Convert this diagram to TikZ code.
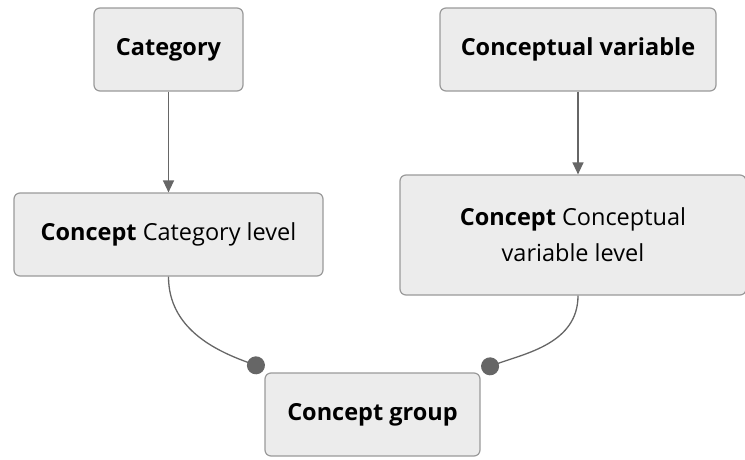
\documentclass[tikz,border=0pt]{standalone}
\usepackage{fontspec}
\setmainfont{Open Sans}
\usetikzlibrary{arrows.meta,positioning}
\definecolor{boxfill}{HTML}{ECECEC}
\definecolor{boxline}{HTML}{9A9A9A}
\definecolor{linkline}{HTML}{666666}
\tikzset{
    %Define standard arrow tip
    >={Triangle[length=12pt,width=11pt]},
    %Define style for boxes
    entity/.style={
           rectangle,
           rounded corners=6pt,
           draw=boxline, line width=1.2pt,
           fill=boxfill,
           minimum height=83pt,
           font=\fontsize{23.5}{36}\selectfont,
           align=center},
    % Define link styles
    isa/.style={
           ->,
           draw=linkline,
           line width=1.3pt},
    member/.style={
           -{Circle[length=18pt,width=18pt]},
           draw=linkline,
           line width=1.3pt}
}

\begin{document}
\begin{tikzpicture}[x=1pt,y=1pt]
\useasboundingbox (0,0) rectangle (745,-459);
\node[entity, minimum width=149pt] (cat) at (168.5,-49.5) {\textbf{Category}};
\node[entity, minimum width=276pt] (cvar) at (578,-49.5) {\textbf{Conceptual variable}};
\node[entity, minimum width=309pt] (catlvl) at (168.5,-234.5) {\textbf{Concept} Category level};
\node[entity, minimum width=346pt, minimum height=120pt] (cvarlvl) at (573,-235)
     {\textbf{Concept} Conceptual\\variable level};
\node[entity, minimum width=215pt] (grp) at (372.5,-414.5) {\textbf{Concept group}};
% links
\draw[isa] (cat) -- (catlvl);
\draw[isa] (cvar) -- (cvar |- cvarlvl.north);
\draw[member] (catlvl.south) to[out=-90, in=160] ([shift={(0,4)}]grp.north west);
\draw[member] (cvar |- cvarlvl.south) to[out=-90, in=20] ([shift={(1,3)}]grp.north east);
\end{tikzpicture}
\end{document}
